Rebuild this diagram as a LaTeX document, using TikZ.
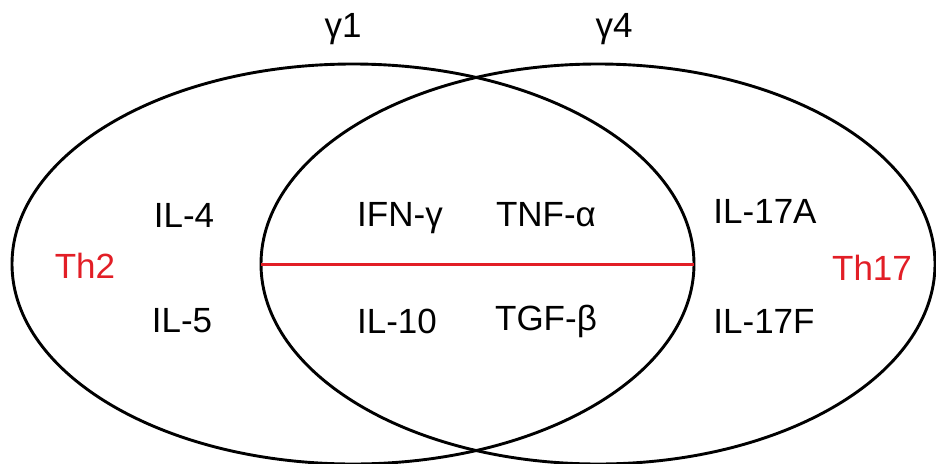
\documentclass[tikz,border=0pt]{standalone}
\usepackage{fontspec}
\setmainfont{Liberation Sans}
\usetikzlibrary{shapes.geometric}
\definecolor{lblred}{RGB}{226,30,38}
\tikzset{
  venn/.style={ellipse, draw=black, line width=2.9pt, inner sep=0pt, outer sep=0pt, minimum height=400pt},
  lbl/.style={anchor=base, inner sep=0pt, font=\fontsize{35}{40}\selectfont},
  redlbl/.style={lbl, text=lblred},
  divider/.style={draw=lblred, line width=3pt}
}
\begin{document}
\begin{tikzpicture}[x=1pt,y=-1pt]
\useasboundingbox (0,0) rectangle (936,463);
\node[venn, minimum width=682pt] (L) at (353,264) {};
\node[venn, minimum width=674pt] (R) at (598,264) {};
\draw[divider] (R.west) -- (L.east);
\node[lbl] (g1) at (343,37) {γ1};
\node[lbl] (g4) at (614,37) {γ4};
\node[lbl] (il4) at (184,227) {IL-4};
\node[lbl] (il5) at (182,332) {IL-5};
\node[redlbl] (th2) at (85,278) {Th2};
\node[lbl] (ifn) at (400,226) {IFN-γ};
\node[lbl] (tnf) at (546,226) {TNF-α};
\node[lbl] (il10) at (397,333) {IL-10};
\node[lbl] (tgf) at (546,330) {TGF-β};
\node[lbl] (il17a) at (765,223) {IL-17A};
\node[lbl] (il17f) at (764,333) {IL-17F};
\node[redlbl] (th17) at (872,280) {Th17};
\end{tikzpicture}
\end{document}
